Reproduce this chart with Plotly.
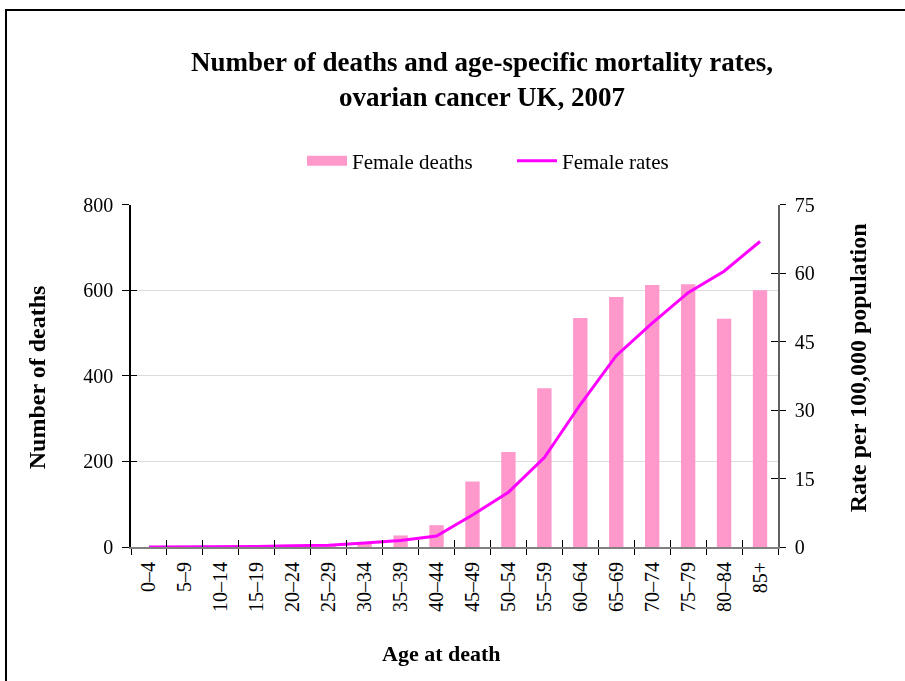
import plotly.graph_objects as go

# Age bands and values: ovarian cancer, UK 2007
age_groups = ["0–4", "5–9", "10–14", "15–19", "20–24", "25–29", "30–34", "35–39",
              "40–44", "45–49", "50–54", "55–59", "60–64", "65–69", "70–74", "75–79",
              "80–84", "85+"]
female_deaths = [0, 0, 1, 1, 3, 3, 8, 27, 51, 153, 222, 371, 535, 584, 612, 614, 533, 600]
female_rates = [0.0, 0.0, 0.1, 0.1, 0.3, 0.4, 0.9, 1.4, 2.4, 7.0, 12.0, 19.6, 31.2,
                41.9, 49.0, 55.7, 60.4, 66.9]

left_ticks = [0, 200, 400, 600, 800]
right_ticks = [0, 15, 30, 45, 60, 75]

BAR_COLOR = "#FF99CC"
LINE_COLOR = "#FF00FF"
FONT = "Liberation Serif"
W, H = 905, 681
L, R, T, B = 131, 127, 202, 134
pw, ph = W - L - R, H - T - B

fig = go.Figure()
fig.add_trace(go.Bar(x=age_groups, y=female_deaths, name="Female deaths",
                     marker=dict(color=BAR_COLOR, line=dict(width=0)),
                     showlegend=False, xaxis="x", yaxis="y"))
# wide swatch legend entry for the bars
fig.add_trace(go.Scatter(x=[None], y=[None], name="Female deaths", mode="lines",
                         line=dict(color=BAR_COLOR, width=10), hoverinfo="skip",
                         xaxis="x", yaxis="y"))
fig.add_trace(go.Scatter(x=age_groups, y=female_rates, name="Female rates",
                         mode="lines", line=dict(color=LINE_COLOR, width=3),
                         xaxis="x", yaxis="y2"))
# invisible helpers so the tick-only overlay axes get drawn
fig.add_trace(go.Scatter(x=age_groups, y=female_deaths, mode="markers", opacity=0,
                         showlegend=False, hoverinfo="skip", xaxis="x2", yaxis="y3"))
fig.add_trace(go.Scatter(x=age_groups, y=female_rates, mode="markers", opacity=0,
                         showlegend=False, hoverinfo="skip", xaxis="x2", yaxis="y4"))

tick_font = dict(family=FONT, size=20, color="black")

fig.update_layout(
    width=W, height=H,
    margin=dict(l=L, r=R, t=T, b=B),
    paper_bgcolor="white", plot_bgcolor="white",
    font=dict(family=FONT, color="black"),
    bargap=0.6,
    showlegend=True,
    title=dict(text="<b>Number of deaths and age-specific mortality rates,<br>ovarian cancer UK, 2007</b>",
               x=482 / W, xref="container", xanchor="center",
               y=1 - 71 / H, yref="container", yanchor="middle",
               font=dict(family=FONT, size=27, color="black")),
    legend=dict(orientation="h", x=302 / W, xanchor="left", xref="container",
                y=1 - 161 / H, yref="container", yanchor="middle",
                font=dict(family=FONT, size=21, color="black"),
                entrywidth=155, entrywidthmode="pixels",
                itemwidth=40, tracegroupgap=0, bgcolor="rgba(0,0,0,0)"),
    xaxis=dict(type="category", categoryarray=age_groups, range=[-0.5, 17.5],
               tickangle=-90, tickfont=tick_font, tickson="boundaries",
               ticks="outside", ticklen=6, tickcolor="black", tickwidth=1,
               ticklabelstandoff=5,
               showline=True, linecolor="#808080", linewidth=2,
               showgrid=False, zeroline=False, fixedrange=True),
    xaxis2=dict(type="category", categoryarray=age_groups, range=[-0.5, 17.5],
                overlaying="x", tickson="boundaries", ticks="inside", ticklen=7,
                tickcolor="black", tickwidth=1, showticklabels=False,
                showline=False, showgrid=False, zeroline=False),
    yaxis=dict(range=[0, 800], tickvals=left_ticks, tickfont=tick_font,
               ticks="outside", ticklen=7, tickcolor="black", tickwidth=1,
               ticklabelstandoff=5,
               showline=True, linecolor="black", linewidth=1.5,
               showgrid=True, gridcolor="#DCDCDC", gridwidth=1, zeroline=False),
    yaxis2=dict(range=[0, 75], tickvals=right_ticks, tickfont=tick_font,
                overlaying="y", side="right", anchor="x",
                ticks="outside", ticklen=6, tickcolor="black", tickwidth=1,
                ticklabelstandoff=5,
                showline=True, linecolor="#606060", linewidth=1.5,
                showgrid=False, zeroline=False),
    yaxis3=dict(range=[0, 800], tickvals=left_ticks, overlaying="y", side="left",
                ticks="inside", ticklen=6, tickcolor="black", tickwidth=1,
                showticklabels=False, showline=False, showgrid=False, zeroline=False),
    yaxis4=dict(range=[0, 75], tickvals=right_ticks, overlaying="y", side="right",
                ticks="inside", ticklen=7, tickcolor="black", tickwidth=1,
                showticklabels=False, showline=False, showgrid=False, zeroline=False),
)

# axis titles
fig.add_annotation(text="<b>Number of deaths</b>", textangle=-90,
                   x=(37 - L) / pw, xref="paper", xanchor="center",
                   y=(H - B - 376) / ph, yref="paper", yanchor="middle", showarrow=False,
                   font=dict(family=FONT, size=24, color="black"))
fig.add_annotation(text="<b>Rate per 100,000 population</b>", textangle=-90,
                   x=(858 - L) / pw, xref="paper", xanchor="center",
                   y=(H - B - 367) / ph, yref="paper", yanchor="middle", showarrow=False,
                   font=dict(family=FONT, size=24, color="black"))
fig.add_annotation(text="<b>Age at death</b>",
                   x=(441 - L) / pw, xref="paper", xanchor="center",
                   y=(H - B - 654) / ph, yref="paper", yanchor="middle", showarrow=False,
                   font=dict(family=FONT, size=22, color="black"))

# chart frame
fig.add_shape(type="rect", xref="paper", yref="paper",
              x0=(6 - L) / pw, x1=(920 - L) / pw,
              y0=(H - B - 700) / ph, y1=(H - B - 6) / ph,
              line=dict(color="black", width=2), fillcolor="rgba(0,0,0,0)", layer="below")

fig.write_html("out.html")
